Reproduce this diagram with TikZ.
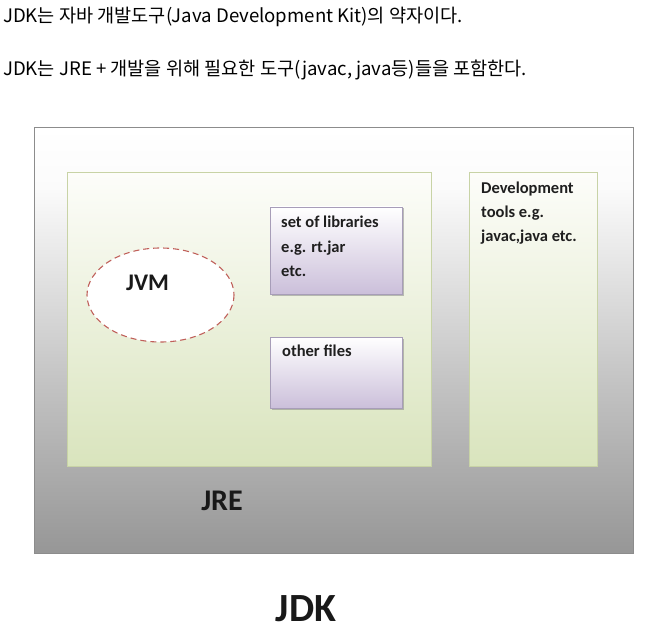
\documentclass[tikz,border=0pt]{standalone}
\usepackage{fontspec}
\setmainfont{Carlito}
\newfontfamily\krfont{Noto Sans CJK KR}
\usetikzlibrary{shadows}
\definecolor{outline}{HTML}{8C8C8C}
\definecolor{greenbot}{HTML}{D9E4BD}
\definecolor{greentop}{HTML}{FDFDFA}
\definecolor{greenline}{HTML}{C8D3A6}
\definecolor{purpbot}{HTML}{CBBFDA}
\definecolor{purpline}{HTML}{A79DB8}
\definecolor{jvmred}{HTML}{C0605A}
\pgfdeclareverticalshading{jdkshade}{100bp}{color(0bp)=(gray!82);color(25bp)=(gray!82);color(45bp)=(gray!47);color(60bp)=(gray!18);color(68bp)=(gray!3);color(75bp)=(white);color(100bp)=(white)}
\tikzset{
  headtext/.style={anchor=west,inner sep=0pt,font=\krfont\fontsize{18.6}{20}\selectfont},
  greenbox/.style={draw=greenline,line width=0.8pt,top color=greentop,bottom color=greenbot,drop shadow={shadow xshift=1.2pt,shadow yshift=-1.2pt,opacity=0.35,fill=gray}},
  purpbox/.style={draw=purpline,line width=0.8pt,top color=white,bottom color=purpbot,drop shadow={shadow xshift=1.5pt,shadow yshift=-1.5pt,opacity=0.5,fill=gray}},
  boxtext/.style={anchor=north west,inner sep=0pt,align=left,font=\bfseries\fontsize{16.5}{24.3}\selectfont,text=black!88},
  biglabel/.style={anchor=base,inner sep=0pt,text=black!90},
}
\begin{document}
\begin{tikzpicture}[x=1pt,y=-1pt]
\useasboundingbox (0,0) rectangle (647,628);
\node[headtext] (line1) at (3,17) {JDK는 자바 개발도구(Java Development Kit)의 약자이다.};
\node[headtext] (line2) at (3,70) {JDK는 JRE + 개발을 위해 필요한 도구(javac, java등)들을 포함한다.};
% outer JDK box
\path[shading=jdkshade,draw=outline,line width=0.8pt] (34,127) rectangle (633,553);
\coordinate (jdkbox) at (333,340);
% JRE box
\path[greenbox] (67,172) rectangle (431,466);
\coordinate (jrebox) at (249,319);
% dev tools box
\path[greenbox] (469,172) rectangle (597,466);
% libraries box
\path[purpbox] (270,207) rectangle (402,294);
% other files box
\path[purpbox] (270,337) rectangle (402,408);
% JVM ellipse
\path[fill=white,draw=jvmred,line width=1.1pt,dash pattern=on 6pt off 4pt] (160.5,295) ellipse [x radius=73.5,y radius=47];
\node[biglabel,font=\bfseries\fontsize{23.8}{26}\selectfont] (jvm) at (147.5,290) {JVM};
\node[boxtext] (libs) at (281,216) {set of libraries\\e.g. rt.jar\\etc.};
\node[boxtext] (other) at (282,345) {other files};
\node[boxtext] (dev) at (481,181.5) {Development\\tools e.g.\\javac,java etc.};
\node[biglabel,font=\bfseries\fontsize{30}{32}\selectfont] (jre) at (222,510) {JRE};
\node[biglabel,font=\bfseries\fontsize{40}{44}\selectfont] (jdk) at (306,621.5) {JDK};
\end{tikzpicture}
\end{document}
